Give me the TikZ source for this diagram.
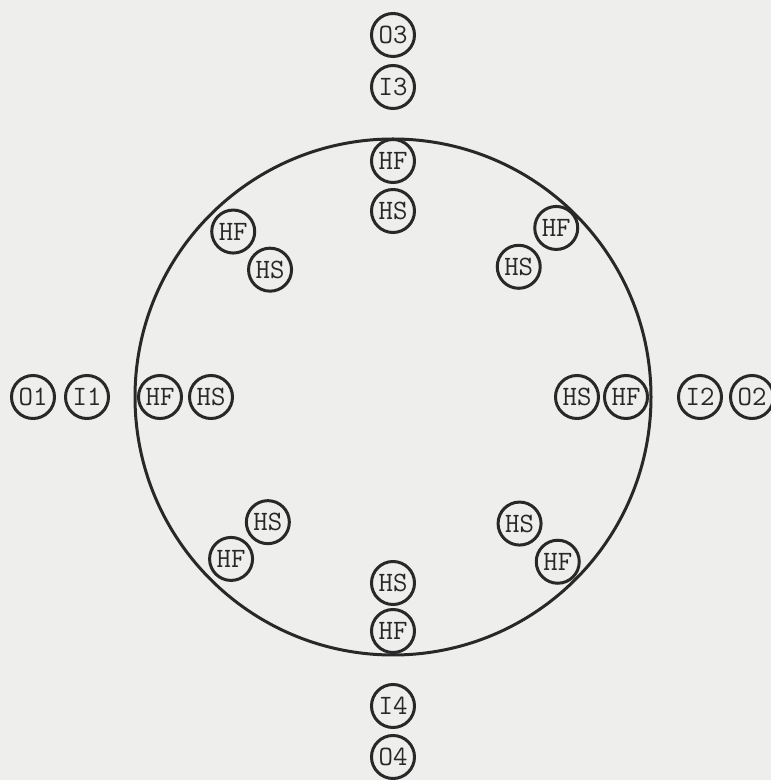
\documentclass[tikz,border=0pt]{standalone}
\usepackage{fontspec}
\definecolor{paper}{RGB}{238,238,236}
\definecolor{ink}{RGB}{40,40,40}
\begin{document}
\begin{tikzpicture}[x=1pt,y=1pt,
  port/.style={circle,draw=ink,line width=3pt,minimum size=43pt,inner sep=0pt,
    font=\ttfamily\fontsize{28}{28}\selectfont,text=ink}]
\fill[paper] (0,0) rectangle (771,780);
\useasboundingbox (0,0) rectangle (771,780);
\begin{scope}[shift={(393,383)}]
\node[circle,draw=ink,line width=3pt,minimum size=516pt,inner sep=0pt] (ring) at (0,0) {};
% axis directions
\node[port] (hfL) at (180:233) {HF};
\node[port] (hsL) at (180:182) {HS};
\node[port] (i1) at (180:306) {I1};
\node[port] (o1) at (180:360) {O1};
\node[port] (hfR) at (0:233) {HF};
\node[port] (hsR) at (0:184) {HS};
\node[port] (i2) at (0:307) {I2};
\node[port] (o2) at (0:359) {O2};
\node[port] (hfT) at (90:236) {HF};
\node[port] (hsT) at (90:186) {HS};
\node[port] (i3) at (90:310) {I3};
\node[port] (o3) at (90:362) {O3};
\node[port] (hfB) at (270:234) {HF};
\node[port] (hsB) at (270:186) {HS};
\node[port] (i4) at (270:309) {I4};
\node[port] (o4) at (270:360) {O4};
% diagonals
\node[port] (hfTL) at (134:230) {HF};
\node[port] (hsTL) at (134:177) {HS};
\node[port] (hfTR) at (46:235) {HF};
\node[port] (hsTR) at (46:181) {HS};
\node[port] (hfBL) at (225:229) {HF};
\node[port] (hsBL) at (225:177) {HS};
\node[port] (hfBR) at (315:233) {HF};
\node[port] (hsBR) at (315:179) {HS};
\end{scope}
\end{tikzpicture}
\end{document}
